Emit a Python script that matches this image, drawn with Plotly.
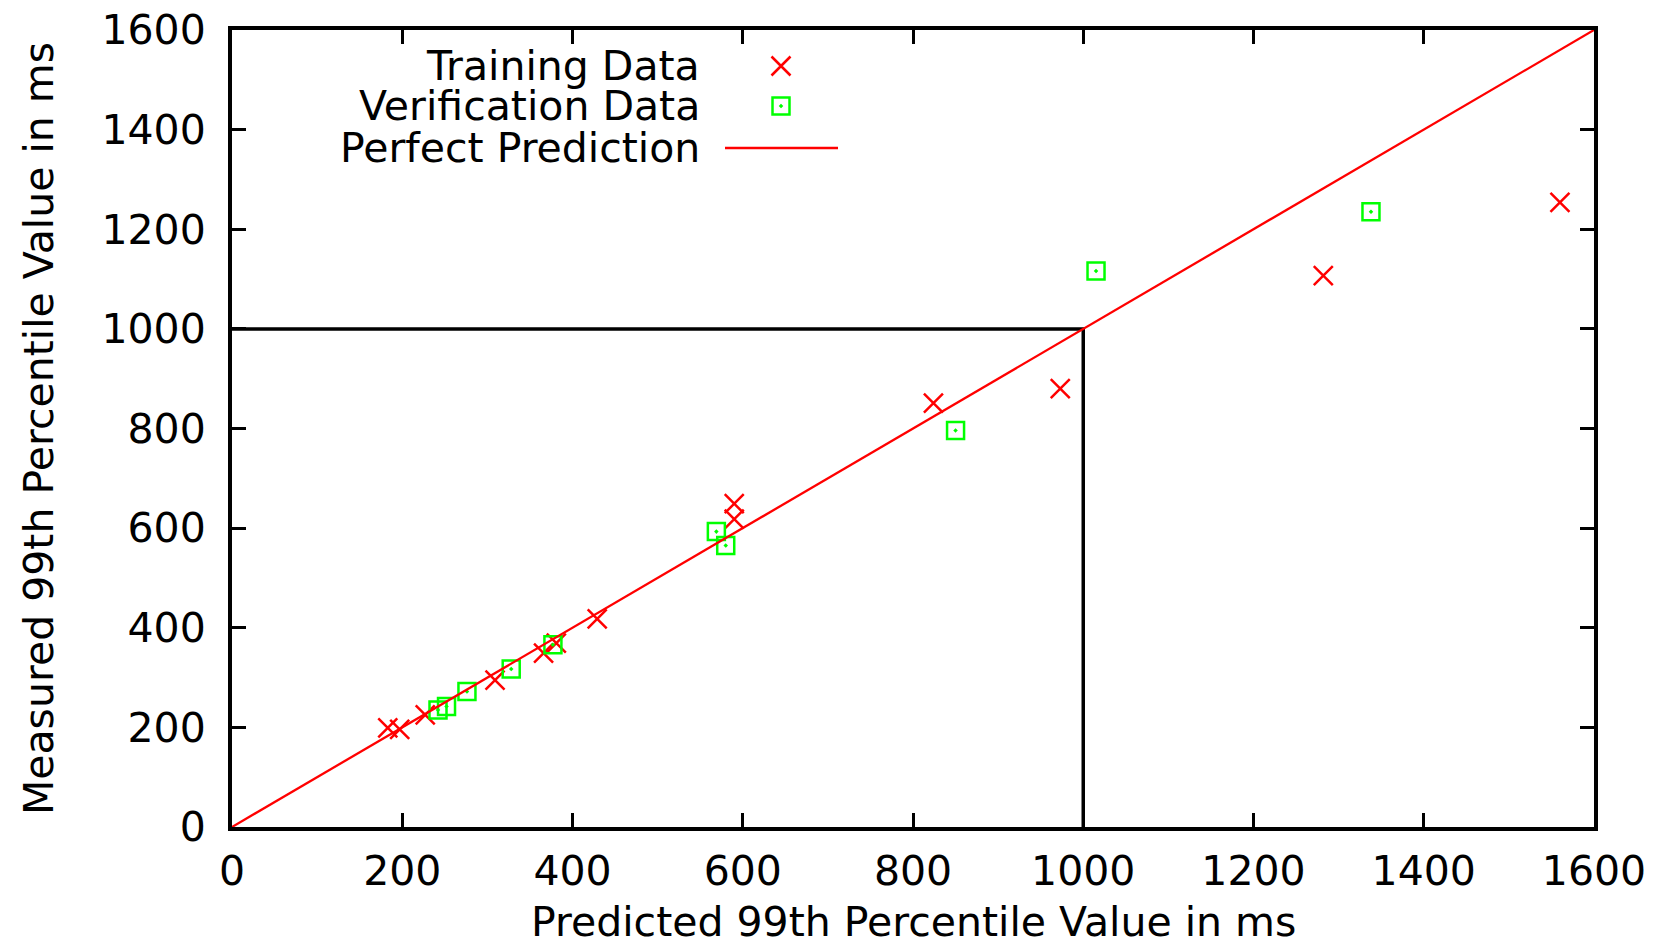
import plotly.graph_objects as go

# Training data (predicted, measured) in ms
train_pred = [183, 197, 227, 309, 366, 381, 429, 590, 590, 824, 973, 1282, 1560]
train_meas = [199, 196, 225, 295, 349, 369, 418, 649, 618, 851, 880, 1107, 1254]

# Verification data (predicted, measured) in ms
verif_pred = [242, 252, 276, 328, 377, 569, 580, 850, 1015, 1338]
verif_meas = [235, 242, 272, 317, 366, 593, 565, 796, 1116, 1235]

# Perfect prediction line
perfect_x = [0, 1600]
perfect_y = [0, 1600]

# Threshold box
threshold = 1000

tick_vals = [0, 200, 400, 600, 800, 1000, 1200, 1400, 1600]

legend_labels = ["Training Data", "Verification Data", "Perfect Prediction"]
x_title = "Predicted 99th Percentile Value in ms"
y_title = "Measured 99th Percentile Value in ms"

RED = "#ff0000"
GREEN = "#00ff00"
FONT = dict(family="DejaVu Sans", size=41, color="black")

W, H = 1666, 947
L, R, T, B = 232, 72, 30, 120
PW, PH = W - L - R, H - T - B


def px_x(p):
    return (p - L) / PW


def px_y(p):
    return (H - B - p) / PH


fig = go.Figure()

# Threshold lines (below data)
fig.add_trace(go.Scatter(
    x=[0, threshold, threshold], y=[threshold, threshold, 0], mode="lines",
    line=dict(color="black", width=3.5), showlegend=False, hoverinfo="skip"))

fig.add_trace(go.Scatter(
    x=train_pred, y=train_meas, mode="markers", name=legend_labels[0],
    marker=dict(symbol="x-thin", size=19, color=RED, line=dict(color=RED, width=2.5)),
    showlegend=False, cliponaxis=False))

fig.add_trace(go.Scatter(
    x=verif_pred, y=verif_meas, mode="markers", name=legend_labels[1],
    marker=dict(symbol="square-open-dot", size=17, color=GREEN, line=dict(color=GREEN, width=2.5)),
    showlegend=False, cliponaxis=False))

fig.add_trace(go.Scatter(
    x=perfect_x, y=perfect_y, mode="lines", name=legend_labels[2],
    line=dict(color=RED, width=2.3), showlegend=False))

# Custom gnuplot-style legend (text on left, sample on right)
leg_y = [px_y(66), px_y(106), px_y(148)]
leg_text_x = px_x(701)
leg_sample_x = px_x(781)
fig.add_trace(go.Scatter(
    x=[leg_sample_x], y=[leg_y[0]], xaxis="x2", yaxis="y2", mode="markers",
    marker=dict(symbol="x-thin", size=19, color=RED, line=dict(color=RED, width=2.5)),
    showlegend=False, hoverinfo="skip"))
fig.add_trace(go.Scatter(
    x=[leg_sample_x], y=[leg_y[1]], xaxis="x2", yaxis="y2", mode="markers",
    marker=dict(symbol="square-open-dot", size=17, color=GREEN, line=dict(color=GREEN, width=2.5)),
    showlegend=False, hoverinfo="skip"))
fig.add_trace(go.Scatter(
    x=[px_x(725), px_x(838)], y=[leg_y[2], leg_y[2]], xaxis="x2", yaxis="y2", mode="lines",
    line=dict(color=RED, width=2.3), showlegend=False, hoverinfo="skip"))

annotations = []
for lbl, yy in zip(legend_labels, leg_y):
    annotations.append(dict(
        x=leg_text_x, y=yy, xref="paper", yref="paper", text=lbl,
        showarrow=False, xanchor="right", yanchor="middle", font=FONT, borderpad=0))

# x-axis title as annotation (centered below the plot)
annotations.append(dict(
    x=0.5, y=px_y(922), xref="paper", yref="paper", text=x_title,
    showarrow=False, xanchor="center", yanchor="middle", font=FONT, borderpad=0))

axis_common = dict(
    range=[0, 1600], tickvals=tick_vals, ticktext=[str(v) for v in tick_vals],
    showline=True, linewidth=4, linecolor="black", mirror="allticks",
    ticks="inside", ticklen=14, tickwidth=3, tickcolor="black",
    showgrid=False, zeroline=False, tickfont=FONT, automargin=False,
)

fig.update_layout(
    width=W, height=H,
    margin=dict(l=L, r=R, t=T, b=B),
    paper_bgcolor="white", plot_bgcolor="white",
    font=FONT,
    xaxis=dict(**axis_common, ticklabelstandoff=5),
    yaxis=dict(**axis_common, ticklabelstandoff=14,
               title=dict(text=y_title, font=FONT, standoff=36)),
    xaxis2=dict(range=[0, 1], overlaying="x", visible=False, fixedrange=True),
    yaxis2=dict(range=[0, 1], overlaying="y", visible=False, fixedrange=True),
    annotations=annotations,
    showlegend=False,
)

fig.write_html("out.html")
